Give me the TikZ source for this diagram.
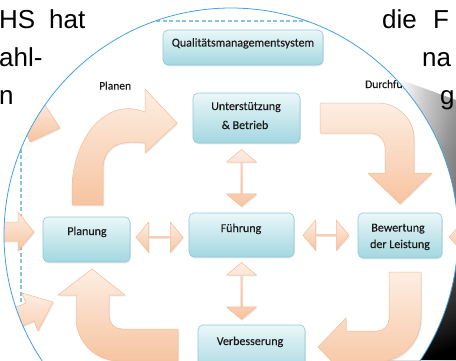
\documentclass[tikz,border=0pt]{standalone}
\usepackage{fontspec}
\setmainfont{Liberation Sans}
\newfontfamily\diafont[FakeBold=0.3]{Carlito}
\usetikzlibrary{shapes.arrows,shadows,calc}
\definecolor{boxtop}{HTML}{EAF7F9}
\definecolor{boxbot}{HTML}{A3D7E0}
\definecolor{boxedge}{HTML}{8FCAD6}
\definecolor{arrtop}{HTML}{FDEEE3}
\definecolor{arrbot}{HTML}{F7C4A0}
\definecolor{arredge}{HTML}{F3BC95}
\definecolor{ringblue}{HTML}{45A2E2}
\definecolor{dashblue}{HTML}{86C6DA}
\definecolor{txt}{HTML}{1A1A1A}
\pgfdeclareverticalshading{curlshade}{100bp}{color(0bp)=(black); color(25bp)=(black); color(30bp)=(black!90); color(45bp)=(black!65); color(62bp)=(black!42); color(70bp)=(black!18); color(75bp)=(white); color(100bp)=(white)}
\begin{document}
\begin{tikzpicture}[x=1pt,y=-1pt,
  pg/.style={font=\fontsize{26}{30}\selectfont, inner sep=0pt, text=black},
  qbox/.style={draw=boxedge, line width=0.6pt, rounded corners=5pt, top color=boxtop, bottom color=boxbot,
    drop shadow={shadow xshift=0.8pt, shadow yshift=-1.3pt, opacity=0.18}, inner sep=0pt},
  qtext/.style={font=\diafont\fontsize{12}{14}\selectfont, text=txt, inner sep=0pt},
  lbl/.style={font=\diafont\fontsize{11.5}{14}\selectfont, text=txt, inner sep=0pt},
  bigarr/.style={draw=arredge, line width=0.5pt, top color=arrtop, bottom color=arrbot,
    drop shadow={shadow xshift=1pt, shadow yshift=-1.3pt, opacity=0.15}},
  dbl/.style={shape=double arrow, double arrow head extend=6.5pt, double arrow tip angle=100,
    minimum width=30pt, inner sep=0pt, bigarr}
]
\useasboundingbox (0,0) rectangle (456,360);
\fill[white] (0,0) rectangle (456,360);

% shadow of the lifted disc
\begin{scope}[even odd rule]
  \clip (0,0) rectangle (456,360) (231,235) circle [radius=227];
  \clip (396,78) -- (456,100) -- (456,360) -- (380,360) -- cycle;
  \shade[shading=curlshade] (370,80) rectangle (456,360);
  \foreach \k in {2,4,...,30}
    \fill[black, opacity=0.02] (360,40) rectangle (470,370) (231,235) circle [radius=227+\k];
\end{scope}

% text of the page behind
\node[pg, anchor=base west] (w1) at (-1,28) {HS};
\node[pg, anchor=base west] (w2) at (49,28) {hat};
\node[pg, anchor=base west] (w3) at (-1,66) {ahl-};
\node[pg, anchor=base west] (w4) at (-1,104) {n};
\node[pg, anchor=base west] (w5) at (382,28) {die};
\node[pg, anchor=base west] (w6) at (433,28) {F};
\node[pg, anchor=base west] (w7) at (422,66) {na};
\node[pg, anchor=base west] (w8) at (440,104) {g};

% content of the disc
\begin{scope}
  \clip (231,235) circle [radius=227];
  \draw[dashblue, line width=1.2pt, dash pattern=on 4pt off 2.5pt] (21,380) -- (21,21) -- (470,21);

  % fragments of arrows from outside
  \path[bigarr] (-20,222) -- (18,222) -- (18,212) -- (34,232) -- (18,251) -- (18,241) -- (-20,241) -- cycle;
  \path[bigarr] (-29,326) -- (26,303) -- (22,293) -- (53,302) -- (38,331) -- (34,321) -- (-21,345) -- cycle;
  \path[bigarr] (60,128) -- (40,97) -- (15,110) -- (30,142) -- cycle;
  \path[bigarr] (449,237) -- (462,223) -- (462,230) -- (480,230) -- (480,244) -- (462,244) -- (462,251) -- cycle;

  % boxes
  \node[qbox, minimum width=160pt, minimum height=35pt] (qms) at (243,47.5) {};
  \node[qbox, minimum width=107pt, minimum height=50pt] (unt) at (246.5,118) {};
  \node[qbox, minimum width=87pt, minimum height=45pt] (plan) at (86.5,239.5) {};
  \node[qbox, minimum width=105pt, minimum height=44pt] (fuhr) at (241.5,235) {};
  \node[qbox, minimum width=84pt, minimum height=45pt] (bew) at (400,235.5) {};
  \node[qbox, minimum width=107pt, minimum height=50pt] (verb) at (251.5,350) {};

  \node[qtext, anchor=base] (qmsT) at (243,46.5) {Qualitätsmanagementsystem};
  \node[qtext, anchor=base] (untT1) at (246,110) {Unterstützung};
  \node[qtext, anchor=base] (untT2) at (245,129) {\& Betrieb};
  \node[qtext, anchor=base] (planT) at (87,235) {Planung};
  \node[qtext, anchor=base] (fuhrT) at (241,232) {Führung};
  \node[qtext, anchor=base] (bewT1) at (398,231.5) {Bewertung};
  \node[qtext, anchor=base] (bewT2) at (400,248) {der Leistung};
  \node[qtext, anchor=base] (verbT) at (250,345) {Verbesserung};

  % double arrows between boxes
  \node[dbl, minimum height=47pt] (a1) at ($(plan.east)!0.5!(fuhr.west)$) {};
  \node[dbl, minimum height=46pt] (a2) at ($(fuhr.east)!0.5!(bew.west)$) {};
  \node[dbl, minimum height=57pt, rotate=90] (a3) at ($(fuhr.north)!0.5!(fuhr.north |- unt.south)$) {};
  \node[dbl, minimum height=57pt, rotate=90] (a4) at ($(fuhr.south)!0.5!(fuhr.south |- verb.north)$) {};

  % PDCA arrows
  \path[bigarr] (72,205) -- (72,190) .. controls (72,140) and (105,96) .. (145,112) -- (145,89)
     -- (177,123) -- (145,153) -- (145,143) .. controls (120,140) and (103,145) .. (103,170) -- (103,205) -- cycle;
  \path[bigarr] (320,103) -- (378,103) .. controls (397.9,103) and (414,119.1) .. (414,139) -- (414,173) -- (432,173)
     -- (400,204) -- (368,173) -- (385,173) -- (385,148) .. controls (385,139.7) and (378.3,133) .. (370,133) -- (320,133) -- cycle;
  \path[bigarr] (389,272) -- (421,272) -- (421,318) .. controls (421,342.3) and (401.3,362) .. (377,362) -- (346,362) -- (346,376)
     -- (318,347) -- (346,318) -- (346,331) -- (377,331) .. controls (383.6,331) and (389,325.6) .. (389,319) -- cycle;
  \path[bigarr] (178,329) -- (122,329) .. controls (114.8,329) and (109,323.2) .. (109,316) -- (109,295) -- (125,295)
     -- (92,269) -- (58,295) -- (76,295) -- (76,318) .. controls (76,341.7) and (95.3,361) .. (119,361) -- (178,361) -- cycle;

  \node[lbl, anchor=base west] (planen) at (99,89.5) {Planen};
  \node[lbl, anchor=base west] (durch) at (365,88) {Durchführen};
\end{scope}
\draw[ringblue, line width=0.8pt] (231,235) circle [radius=227];
\end{tikzpicture}
\end{document}
